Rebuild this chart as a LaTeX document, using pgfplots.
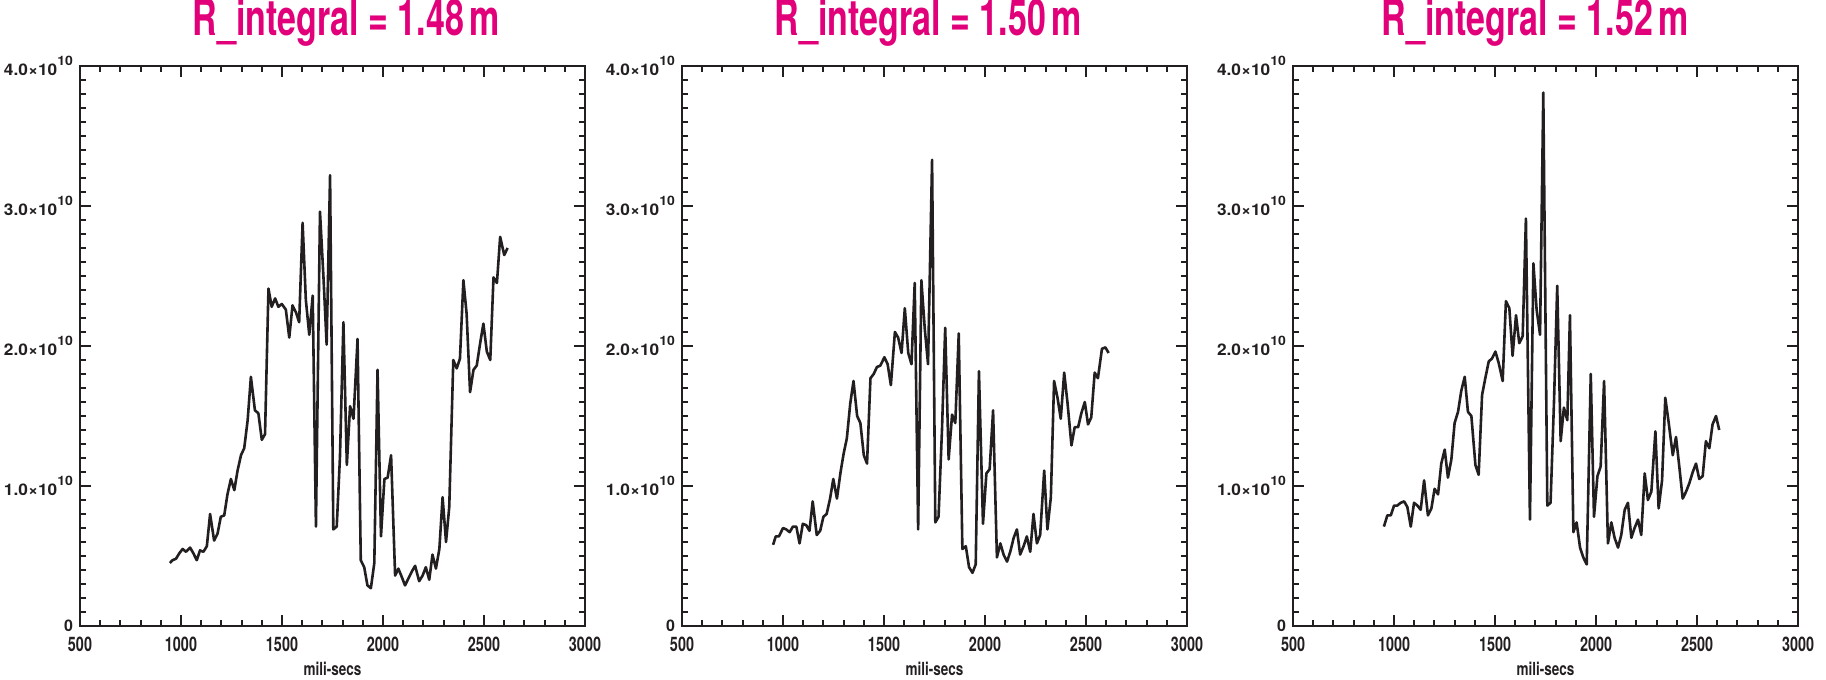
\documentclass[border=0pt]{standalone}
\usepackage{fontspec}
\setmainfont{TeX Gyre Heros}
\usepackage{graphicx}
\usepackage{pgfplots}
\pgfplotsset{compat=1.18}
\definecolor{tmag}{RGB}{226,0,122}
\definecolor{ink}{RGB}{35,31,32}
\newcommand{\nar}[2][0.68]{\scalebox{#1}[1]{#2}}
\newcommand{\ylab}[1]{\scalebox{1.08}[1]{#1×10\raisebox{5.2pt}{\fontsize{6.5}{6.5}\selectfont 10}}}

\pgfplotstableread{
x y
945 0.45
958 0.47
975 0.48
992 0.52
1008 0.55
1025 0.53
1045 0.56
1061 0.52
1078 0.47
1094 0.54
1111 0.53
1128 0.57
1144 0.80
1164 0.61
1181 0.66
1197 0.78
1214 0.79
1230 0.94
1247 1.05
1264 0.97
1280 1.11
1297 1.22
1313 1.27
1330 1.47
1346 1.78
1366 1.54
1383 1.52
1400 1.33
1416 1.37
1433 2.41
1449 2.28
1466 2.34
1482 2.28
1499 2.30
1519 2.26
1536 2.06
1552 2.29
1569 2.24
1585 2.17
1602 2.88
1618 2.33
1635 2.08
1652 2.36
1668 0.71
1688 2.96
1705 2.50
1721 2.01
1738 3.22
1754 0.69
1771 0.71
1787 1.21
1804 2.17
1821 1.15
1837 1.57
1854 1.48
1874 2.05
1890 0.47
1907 0.42
1923 0.29
1940 0.27
1957 0.45
1973 1.83
1990 0.64
2007 1.05
2023 1.06
2040 1.22
2060 0.36
2076 0.41
2093 0.35
2109 0.29
2126 0.34
2143 0.39
2159 0.43
2179 0.32
2196 0.36
2212 0.42
2229 0.33
2245 0.51
2262 0.41
2279 0.55
2295 0.92
2312 0.60
2328 0.85
2348 1.90
2365 1.84
2381 1.91
2398 2.47
2414 2.23
2431 1.67
2448 1.83
2464 1.86
2481 2.02
2497 2.16
2514 1.96
2531 1.90
2547 2.49
2564 2.45
2580 2.78
2600 2.65
2617 2.70
}\dataA

\pgfplotstableread{
x y
951 0.58
964 0.64
980 0.64
1000 0.70
1016 0.69
1033 0.67
1049 0.71
1066 0.71
1082 0.59
1098 0.73
1115 0.72
1131 0.68
1147 0.89
1167 0.65
1184 0.68
1200 0.78
1216 0.80
1233 0.91
1249 1.05
1267 0.91
1284 1.09
1300 1.23
1316 1.34
1333 1.59
1349 1.75
1367 1.50
1383 1.45
1400 1.22
1416 1.16
1433 1.77
1449 1.80
1465 1.85
1482 1.86
1502 1.92
1518 1.87
1534 1.72
1554 2.10
1570 2.06
1587 1.95
1603 2.27
1620 1.95
1636 1.87
1652 2.45
1669 0.69
1685 2.47
1702 2.12
1718 1.87
1738 3.33
1754 0.74
1770 0.78
1787 1.40
1803 2.13
1820 1.19
1837 1.51
1853 1.45
1870 2.09
1888 0.55
1905 0.57
1921 0.42
1938 0.38
1954 0.44
1970 1.82
1990 0.73
2007 1.09
2023 1.12
2040 1.54
2059 0.49
2076 0.59
2092 0.51
2109 0.46
2125 0.53
2142 0.63
2158 0.69
2174 0.51
2191 0.57
2207 0.64
2224 0.53
2240 0.80
2257 0.59
2273 0.65
2293 1.11
2309 0.69
2326 0.92
2342 1.75
2359 1.63
2375 1.48
2392 1.81
2408 1.60
2428 1.29
2444 1.42
2461 1.42
2477 1.52
2494 1.60
2510 1.44
2526 1.49
2543 1.81
2559 1.77
2579 1.98
2596 1.99
2612 1.95
}\dataB

\pgfplotstableread{
x y
950 0.71
967 0.79
984 0.79
1000 0.86
1016 0.86
1033 0.88
1050 0.89
1066 0.85
1083 0.71
1099 0.88
1116 0.86
1132 0.83
1149 1.04
1168 0.79
1185 0.84
1201 0.98
1218 0.94
1234 1.16
1251 1.26
1267 1.06
1284 1.19
1300 1.45
1317 1.53
1333 1.68
1350 1.78
1366 1.53
1383 1.50
1403 1.15
1419 1.08
1436 1.65
1452 1.77
1469 1.89
1485 1.91
1502 1.96
1518 1.88
1538 1.75
1554 2.32
1571 2.27
1587 1.93
1604 2.22
1620 2.02
1637 2.07
1653 2.91
1673 0.76
1690 2.59
1706 2.26
1723 2.08
1739 3.81
1759 0.86
1775 0.88
1792 1.60
1808 2.43
1825 1.32
1841 1.56
1858 1.47
1871 2.22
1888 0.67
1904 0.74
1921 0.56
1937 0.49
1954 0.44
1974 1.80
1990 0.78
2007 1.07
2023 1.14
2040 1.75
2059 0.59
2076 0.74
2092 0.63
2109 0.56
2125 0.65
2142 0.83
2158 0.88
2175 0.63
2191 0.70
2208 0.76
2224 0.65
2241 1.09
2257 0.90
2274 0.96
2294 1.39
2310 0.84
2327 1.04
2343 1.63
2360 1.45
2380 1.22
2396 1.35
2413 1.13
2429 0.91
2446 0.96
2462 1.02
2479 1.10
2495 1.16
2511 1.05
2528 1.07
2544 1.32
2561 1.27
2577 1.44
2594 1.50
2610 1.40
}\dataC

\pgfplotsset{
  panel/.style={
    scale only axis, width=252.5pt, height=280pt,
    xmin=500, xmax=3000, ymin=0, ymax=4,
    xtick={500,1000,1500,2000,2500,3000},
    xticklabels={\nar[0.72]{500},\nar[0.72]{1000},\nar[0.72]{1500},\nar[0.72]{2000},\nar[0.72]{2500},\nar[0.72]{3000}},
    minor x tick num=4,
    ytick={0,1,2,3,4},
    yticklabels={0,\ylab{1.0},\ylab{2.0},\ylab{3.0},\ylab{4.0}},
    minor y tick num=9,
    scaled y ticks=false, scaled x ticks=false,
    tick align=inside,
    major tick length=5.5pt, minor tick length=2.8pt,
    tick style={ink, line width=1pt},
    axis line style={ink, line width=1.4pt},
    xticklabel style={font=\fontsize{10}{10}\selectfont\bfseries, text=ink, yshift=-2pt},
    yticklabel style={font=\fontsize{8}{8}\selectfont\bfseries, text=ink},
    xlabel={\nar[0.75]{mili-secs}},
    xlabel style={font=\fontsize{9}{9}\selectfont\bfseries, text=ink, at={(axis description cs:0.5,0)}, anchor=base, yshift=-24.5pt},
    title style={font=\fontsize{25}{25}\selectfont\bfseries, text=tmag, at={(axis description cs:0.5,1)}, anchor=base, yshift=9pt},
    clip=false,
  },
  curve/.style={ink, line width=1.3pt, line join=round, no markers},
}

\begin{document}
\begin{tikzpicture}
\path[use as bounding box] (-40pt,-27pt) rectangle (873pt,313pt);
\begin{axis}[panel, at={(0pt,0pt)}, anchor=south west,
  title={\nar{R\_integral = 1.48\,m}}, title style={xshift=7pt}]
\addplot[curve] table[x=x,y=y] {\dataA};
\end{axis}
\begin{axis}[panel, at={(301pt,0pt)}, anchor=south west,
  title={\nar{R\_integral = 1.50\,m}}, title style={xshift=-3pt}]
\addplot[curve] table[x=x,y=y] {\dataB};
\end{axis}
\begin{axis}[panel, at={(606.5pt,0pt)}, anchor=south west,
  title={\nar{R\_integral = 1.52\,m}}, title style={xshift=-5pt}]
\addplot[curve] table[x=x,y=y] {\dataC};
\end{axis}
\end{tikzpicture}
\end{document}
